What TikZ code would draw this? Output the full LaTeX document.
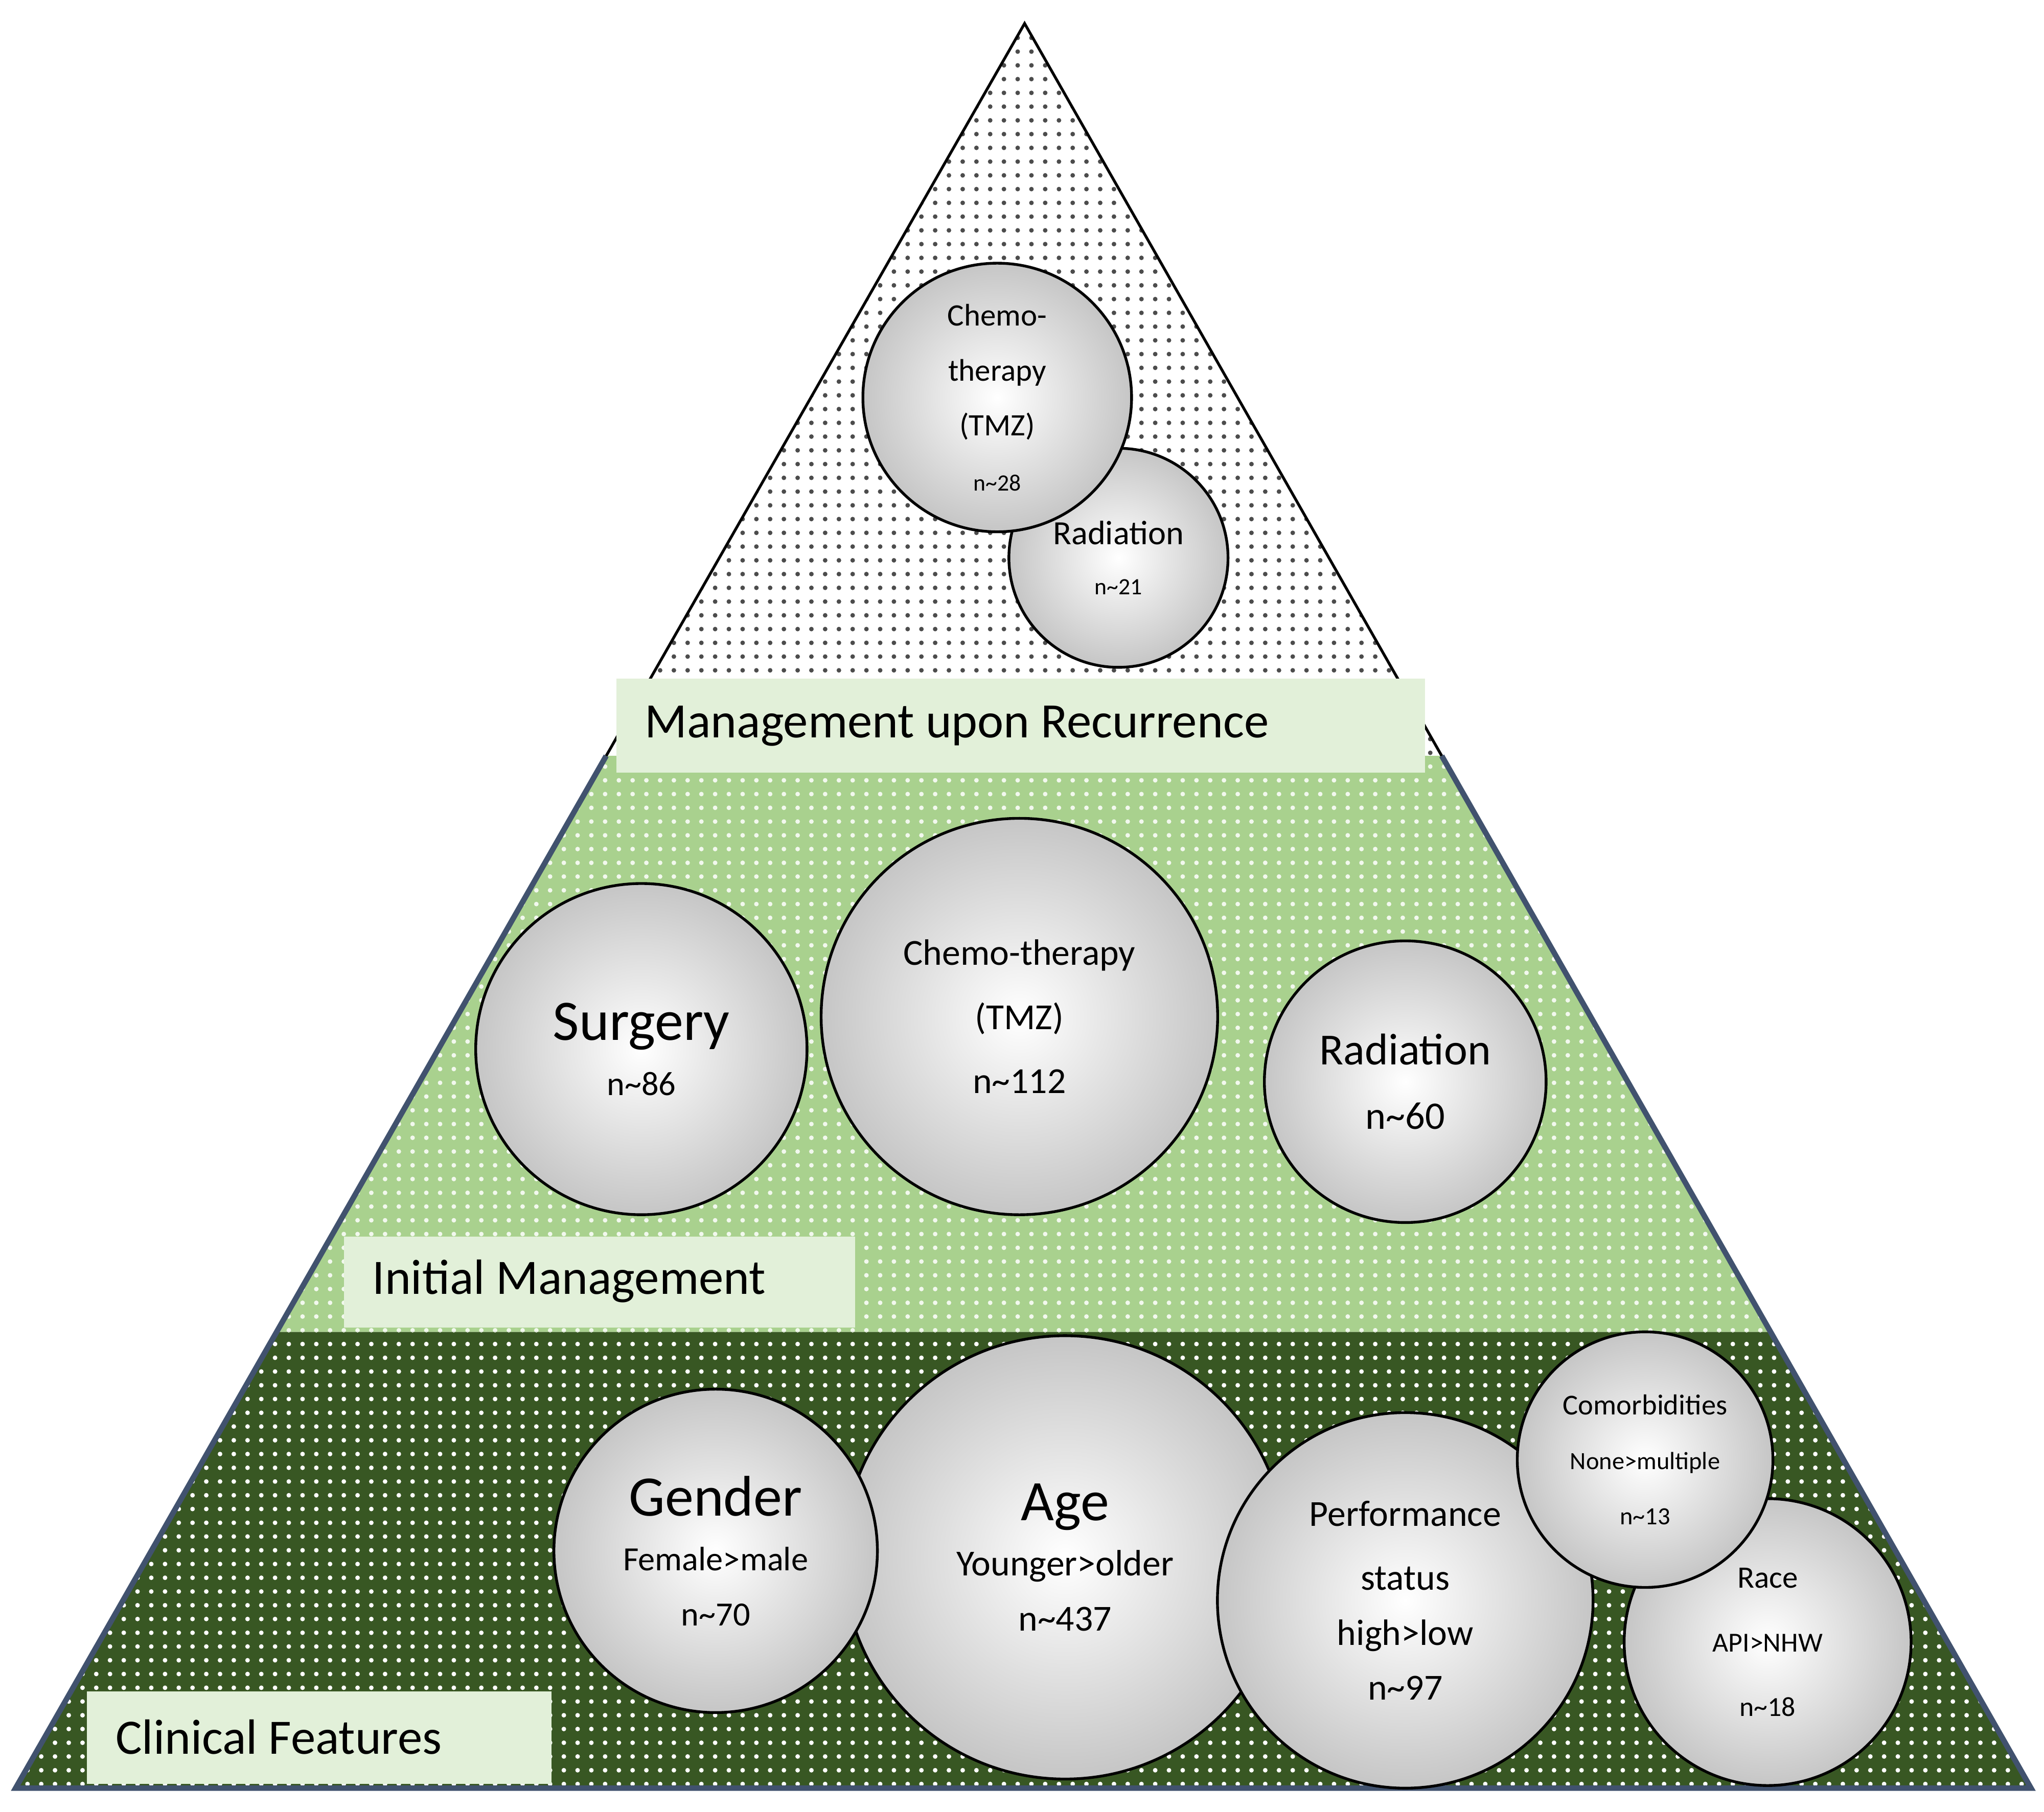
\documentclass[tikz,border=0pt]{standalone}
\usepackage{fontspec}
\setmainfont{Carlito}
\usetikzlibrary{patterns}
\definecolor{lgreen}{HTML}{A9D18E}
\definecolor{dgreen}{HTML}{385723}
\definecolor{lbox}{HTML}{E2F0D9}
\definecolor{edge}{HTML}{41526E}
\newcommand\fsz[1]{\fontsize{#1pt}{1.15\dimexpr#1pt\relax}\selectfont}
\tikzset{
 ball/.style={circle,draw=black,line width=0.6pt,inner color=white,outer color=gray!45,align=center,inner sep=0pt},
 lab/.style={fill=lbox,anchor=north west,inner sep=0pt,align=left},
}
\begin{document}
\begin{tikzpicture}[x=0.01cm,y=-0.01cm]
\useasboundingbox (0,0) rectangle (1568,1390);
\fill[white] (0,0) rectangle (1568,1390);
% layers
\coordinate (A) at (786,18);
\coordinate (L1) at (465,580); \coordinate (R1) at (1106,580);
\coordinate (L2) at (212,1022); \coordinate (R2) at (1358,1022);
\coordinate (BL) at (12,1372); \coordinate (BR) at (1558,1372);
\fill[white] (A)--(R1)--(L1)--cycle;
\fill[pattern=dots,pattern color=black!70] (A)--(R1)--(L1)--cycle;
\fill[lgreen] (L1)--(R1)--(R2)--(L2)--cycle;
\fill[pattern=dots,pattern color=white!85!lgreen] (L1)--(R1)--(R2)--(L2)--cycle;
\fill[dgreen] (L2)--(R2)--(BR)--(BL)--cycle;
\fill[pattern=dots,pattern color=white] (L2)--(R2)--(BR)--(BL)--cycle;
\draw[black,line width=0.6pt] (L1)--(A)--(R1);
\draw[edge,line width=1.2pt] (L1)--(BL)--(BR)--(R1);
% labels
\node[lab,minimum width=6.2cm,minimum height=0.72cm] (mur) at (472,520) {};
\node[anchor=west,inner sep=0pt] (murt) at (494,557) {\fsz{10.8}Management upon Recurrence};
\node[lab,minimum width=3.92cm,minimum height=0.7cm] (im) at (263,948) {};
\node[anchor=west,inner sep=0pt] (imt) at (285,983) {\fsz{10.8}Initial Management};
\node[lab,minimum width=3.56cm,minimum height=0.71cm] (cf) at (66,1297) {};
\node[anchor=west,inner sep=0pt] (cft) at (88,1333) {\fsz{10.8}Clinical Features};
% top circles
\node[ball,minimum size=1.68cm] (rad1) at (858,428) {\fsz{7.4}Radiation\\[-1pt]\fsz{5.1}n\textasciitilde21};
\node[ball,minimum size=2.06cm] (chemo1) at (765,305) {\fsz{6.8}Chemo-\\\fsz{6.8}therapy\\\fsz{6.8}(TMZ)\\\fsz{5.1}n\textasciitilde28};
% middle circles
\node[ball,minimum size=2.54cm] (surg) at (492,805) {\fsz{12.5}Surgery\\\fsz{7.4}n\textasciitilde86};
\node[ball,minimum size=3.04cm] (chemo2) at (782,780) {\fsz{8}Chemo-therapy\\[2pt]\fsz{8}(TMZ)\\[2pt]\fsz{8}n\textasciitilde112};
\node[ball,minimum size=2.16cm] (rad2) at (1078,830) {\fsz{9.7}Radiation\\[2pt]\fsz{8.5}n\textasciitilde60};
% bottom circles
\node[ball,minimum size=3.4cm] (age) at (817,1195) {\fsz{12.5}Age\\\fsz{8}Younger>older\\\fsz{8}n\textasciitilde437};
\node[ball,minimum size=2.48cm] (gender) at (549,1190) {\fsz{12.5}Gender\\\fsz{7.4}Female>male\\\fsz{7.4}n\textasciitilde70};
\node[ball,minimum size=2.2cm] (race) at (1356,1260) {\fsz{6.8}Race\\[2pt]\fsz{6}API>NHW\\[2pt]\fsz{6}n\textasciitilde18};
\node[ball,minimum size=2.88cm] (perf) at (1078,1228) {\fsz{8}Performance\\[2pt]\fsz{8}status\\\fsz{8}high>low\\\fsz{8}n\textasciitilde97};
\node[ball,minimum size=1.96cm] (comorb) at (1262,1120) {\fsz{6.3}Comorbidities\\\fsz{5.4}None>multiple\\\fsz{5.4}n\textasciitilde13};
\end{tikzpicture}
\end{document}
